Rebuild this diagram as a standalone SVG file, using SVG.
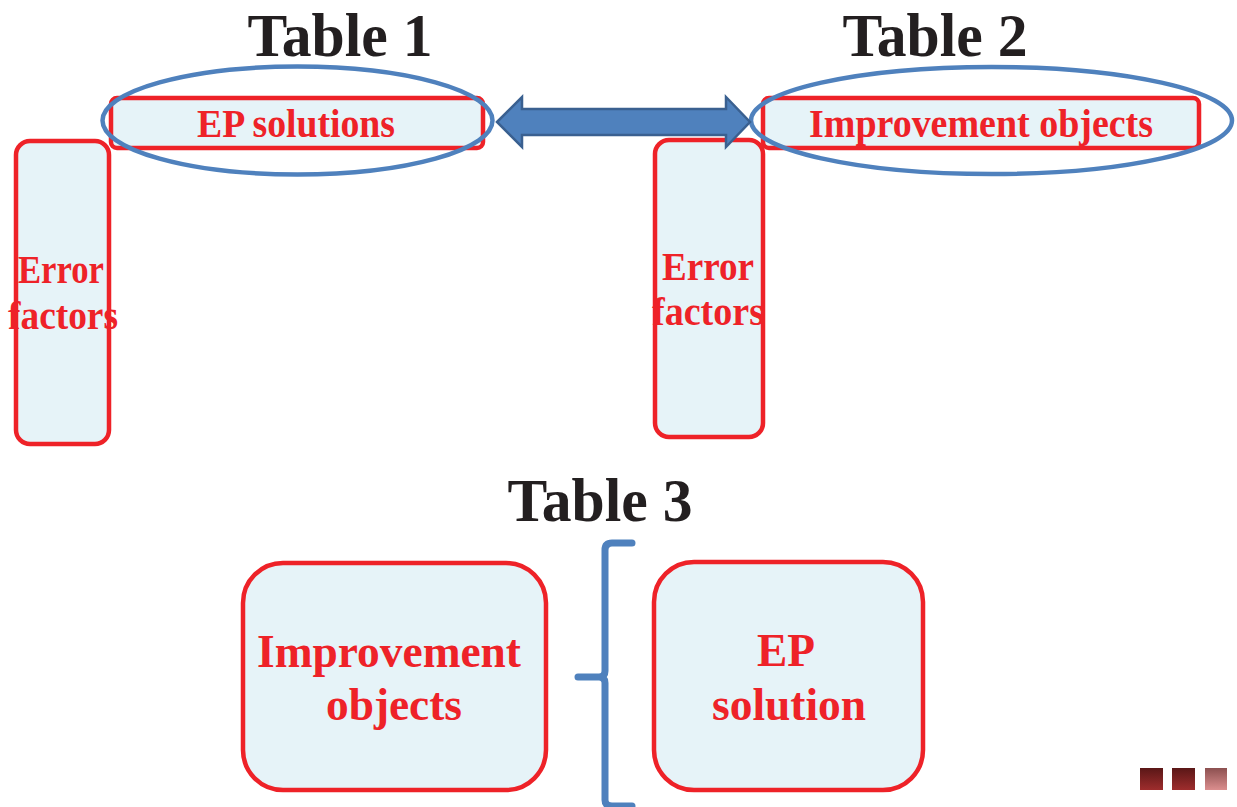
<svg xmlns="http://www.w3.org/2000/svg" width="1237" height="807" viewBox="0 0 1237 807">
<style>
.box{fill:#e6f3f8;stroke:#ee2228;stroke-width:4.5}
.ell{fill:none;stroke:#4f81bd;stroke-width:4.5}
.title{font-family:"Liberation Serif",serif;font-weight:bold;font-size:62px;fill:#231f20;text-anchor:middle}
.lbl{font-family:"Liberation Serif",serif;font-weight:bold;font-size:39px;fill:#ee2228;text-anchor:middle}
.big{font-family:"Liberation Serif",serif;font-weight:bold;font-size:47px;fill:#ee2228;text-anchor:middle}
</style>
<defs>
<linearGradient id="sqd" x1="0" y1="0" x2="0" y2="1"><stop offset="0" stop-color="#5a1717"/><stop offset="1" stop-color="#9e2d2d"/></linearGradient>
<linearGradient id="sql" x1="0" y1="0" x2="0" y2="1"><stop offset="0" stop-color="#8c5050"/><stop offset="1" stop-color="#db8e8e"/></linearGradient>
</defs>
<rect width="1237" height="807" fill="#ffffff"/>
<g id="titles">
<text class="title" x="340" y="56" textLength="185" lengthAdjust="spacingAndGlyphs">Table 1</text>
<text class="title" x="935" y="56" textLength="185" lengthAdjust="spacingAndGlyphs">Table 2</text>
<text class="title" x="600" y="521" textLength="185" lengthAdjust="spacingAndGlyphs">Table 3</text>
</g>
<g id="ep-solutions">
<rect class="box" x="111" y="98" width="372" height="50" rx="6"/>
<text class="lbl" x="296" y="137" textLength="198" lengthAdjust="spacingAndGlyphs">EP solutions</text>
<ellipse class="ell" cx="297.5" cy="120.5" rx="195" ry="54"/>
</g>
<g id="improvement-objects">
<rect class="box" x="763" y="98" width="436" height="50" rx="6"/>
<text class="lbl" x="981" y="137" textLength="344" lengthAdjust="spacingAndGlyphs">Improvement objects</text>
<ellipse class="ell" cx="991.5" cy="120.5" rx="240.5" ry="53.5"/>
</g>
<g id="error-factors-1">
<rect class="box" x="16" y="141" width="93" height="303" rx="14"/>
<text class="lbl" x="61" y="283" textLength="86" lengthAdjust="spacingAndGlyphs">Error</text>
<text class="lbl" x="63" y="329" textLength="110" lengthAdjust="spacingAndGlyphs">factors</text>
</g>
<g id="error-factors-2">
<rect class="box" x="655" y="140" width="108" height="297" rx="14"/>
<text class="lbl" x="708" y="280" textLength="92" lengthAdjust="spacingAndGlyphs">Error</text>
<text class="lbl" x="708" y="325" textLength="112" lengthAdjust="spacingAndGlyphs">factors</text>
</g>
<g id="improvement-objects-3">
<rect class="box" x="243" y="563" width="303" height="227" rx="40"/>
<text class="big" x="389" y="667" textLength="264" lengthAdjust="spacingAndGlyphs">Improvement</text>
<text class="big" x="394" y="720" textLength="136" lengthAdjust="spacingAndGlyphs">objects</text>
</g>
<g id="ep-solution-3">
<rect class="box" x="654" y="562" width="269" height="228" rx="40"/>
<text class="big" x="786" y="666" textLength="58" lengthAdjust="spacingAndGlyphs">EP</text>
<text class="big" x="789" y="720" textLength="154" lengthAdjust="spacingAndGlyphs">solution</text>
</g>
<g id="connectors">
<path d="M497,122 L522,97 L522,109 L726,109 L726,97 L750,122 L726,147 L726,135 L522,135 L522,147 Z" fill="#4f81bd" stroke="#3a6090" stroke-width="2.5" stroke-linejoin="miter"/>
<path d="M632,543 L612,543 Q605,543 605,550 L605,671 Q605,677 599,677 L578,677 M599,677 Q605,677 605,683 L605,800 Q605,806 612,806 L632,806" fill="none" stroke="#4f81bd" stroke-width="7" stroke-linecap="round"/>
</g>
<g id="squares">
<rect x="1140" y="768" width="23" height="22" fill="url(#sqd)"/>
<rect x="1172" y="768" width="23" height="22" fill="url(#sqd)"/>
<rect x="1205" y="768" width="22" height="22" fill="url(#sql)"/>
</g>
</svg>
